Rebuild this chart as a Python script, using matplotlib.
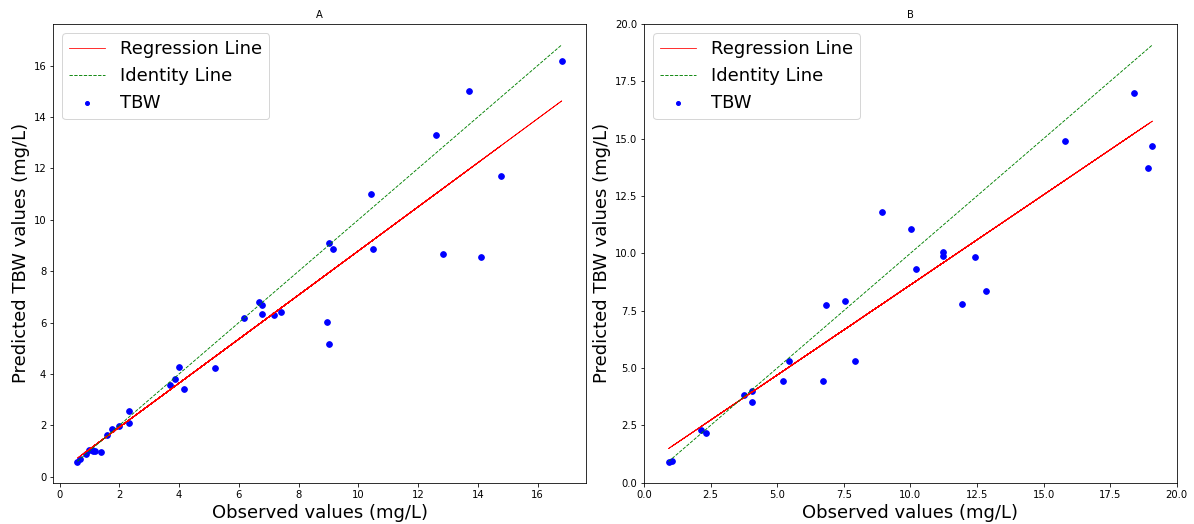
import numpy as np
import matplotlib
matplotlib.use('Agg')
import matplotlib.pyplot as plt


#observed / predicted TBW values, panel A
obs_a = [6.78, 0.97, 12.60, 2.31, 9.01, 1.59, 16.81, 4.00, 0.60, 7.19, 13.72, 1.125,
         3.69, 10.50, 0.875, 6.19, 14.11, 2.33, 1.07, 9.15, 5.20, 0.70, 12.82, 3.875,
         6.68, 1.375, 10.42, 8.94, 1.99, 7.40, 4.18, 14.78, 1.19, 9.01, 1.77, 6.78]
pred_a = [6.34, 1.04, 13.32, 2.56, 5.16, 1.62, 16.18, 4.28, 0.58, 6.28, 15.00, 1.01,
          3.59, 8.85, 0.87, 6.16, 8.56, 2.09, 1.06, 8.85, 4.24, 0.69, 8.67, 3.80,
          6.82, 0.97, 11.00, 6.03, 1.98, 6.42, 3.41, 11.71, 1.01, 9.11, 1.87, 6.67]

#observed / predicted TBW values, panel B
obs_b = [5.44, 11.21, 0.92, 18.40, 4.07, 7.92, 2.33, 12.43, 6.83, 19.09, 1.04, 10.21, 3.75,
         15.81, 6.72, 11.94, 2.15, 8.92, 4.07, 18.92, 5.23, 12.83, 7.55, 10.03, 11.21]
pred_b = [5.31, 10.06, 0.91, 16.97, 3.99, 5.31, 2.15, 9.84, 7.75, 14.68, 0.94, 9.32, 3.83,
          14.91, 4.43, 7.79, 2.31, 11.81, 3.54, 13.73, 4.43, 8.35, 7.91, 11.08, 9.88]

titles = ['A', 'B']


#one panel: regression line, identity line and the points
def Panel(ax, x, y, title):
    x = np.array(x)
    y = np.array(y)
    k, q = np.polyfit(x, y, 1)
    ax.plot(x, k * x + q, color='red', lw=0.8, label='Regression Line')
    ax.plot([x.min(), x.max()], [x.min(), x.max()], 'g--', lw=0.9, label='Identity Line')
    ax.scatter(x, y, color='blue', s=32, label='TBW')
    ax.set_title(title, fontsize=10)
    ax.set_xlabel('Observed values (mg/L)', fontsize=18)
    ax.set_ylabel('Predicted TBW values (mg/L)', fontsize=18)
    ax.tick_params(labelsize=10)
    ax.legend(loc='upper left', fontsize=18, markerscale=0.7)


fig, axs = plt.subplots(1, 2, figsize=(1194 / 72, 524 / 72), dpi=72)
fig.subplots_adjust(left=0.0446, right=0.9855, bottom=0.0788, top=0.9542, wspace=0.109)

Panel(axs[0], obs_a, pred_a, titles[0])
Panel(axs[1], obs_b, pred_b, titles[1])
axs[1].set_xlim(0, 20)
axs[1].set_ylim(0, 20)

fig.savefig('out.png', dpi=72)
